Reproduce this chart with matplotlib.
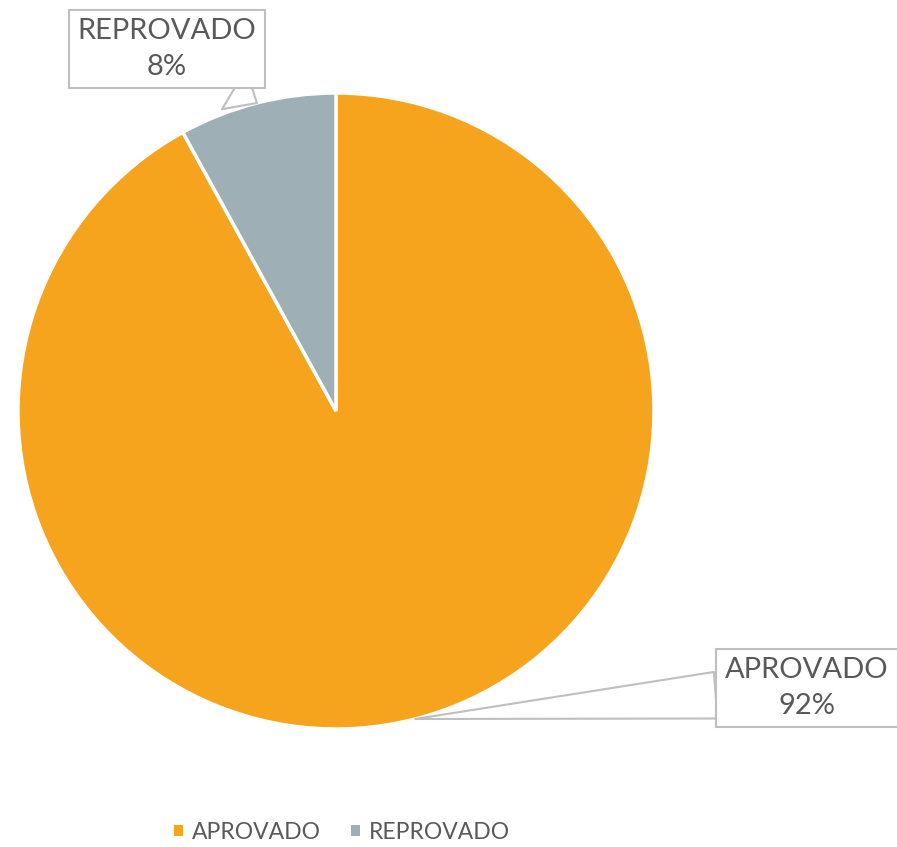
import matplotlib.pyplot as plt
import numpy as np

labels = ['APROVADO', 'REPROVADO']
values = [92, 8]
colors = ['#F6A31E', '#9EAFB5']
# where the callout boxes sit (figure pixels)
box_pos = [(807, 159), (167, 798)]

plt.rcParams['font.family'] = ['Lato', 'DejaVu Sans']
txt_color = '#595959'

fig = plt.figure(figsize=(8.97, 8.47), dpi=100)
W, H = 897, 847
cx, cy, r = 336, 847 - 411, 318
ax = fig.add_axes([(cx - r) / W, (cy - r) / H, 2 * r / W, 2 * r / H])

wedges, _ = ax.pie(values, colors=colors, startangle=90, counterclock=False,
                   wedgeprops=dict(edgecolor='white', linewidth=2.5))
ax.set_xlim(-1, 1)
ax.set_ylim(-1, 1)
ax.set_aspect('equal')
ax.axis('off')

total = sum(values)
for w, lab, v, pos in zip(wedges, labels, values, box_pos):
    ang = np.deg2rad((w.theta1 + w.theta2) / 2)
    x, y = np.cos(ang), np.sin(ang)
    ax.annotate(f'{lab}\n{round(100 * v / total)}%', xy=(x, y), xycoords='data',
                xytext=pos, textcoords='figure pixels', ha='center', va='center',
                fontsize=21, color=txt_color, linespacing=1.45,
                bbox=dict(boxstyle='square,pad=0.3', fc='white', ec='#BFBFBF', lw=1.5),
                arrowprops=dict(arrowstyle='wedge,tail_width=1.6,shrink_factor=0.5',
                                fc='white', ec='#BFBFBF', lw=1.5, shrinkA=0, shrinkB=0))

leg = fig.legend(wedges, labels, loc='center', bbox_to_anchor=(342 / W, 1 - 832 / H),
                 ncol=2, frameon=False, fontsize=16.5, handlelength=0.4, handleheight=0.4,
                 handletextpad=0.4, columnspacing=1.3)
for t in leg.get_texts():
    t.set_color(txt_color)
for p in leg.get_patches():
    p.set_edgecolor('none')

fig.savefig('out.png', dpi=100)
